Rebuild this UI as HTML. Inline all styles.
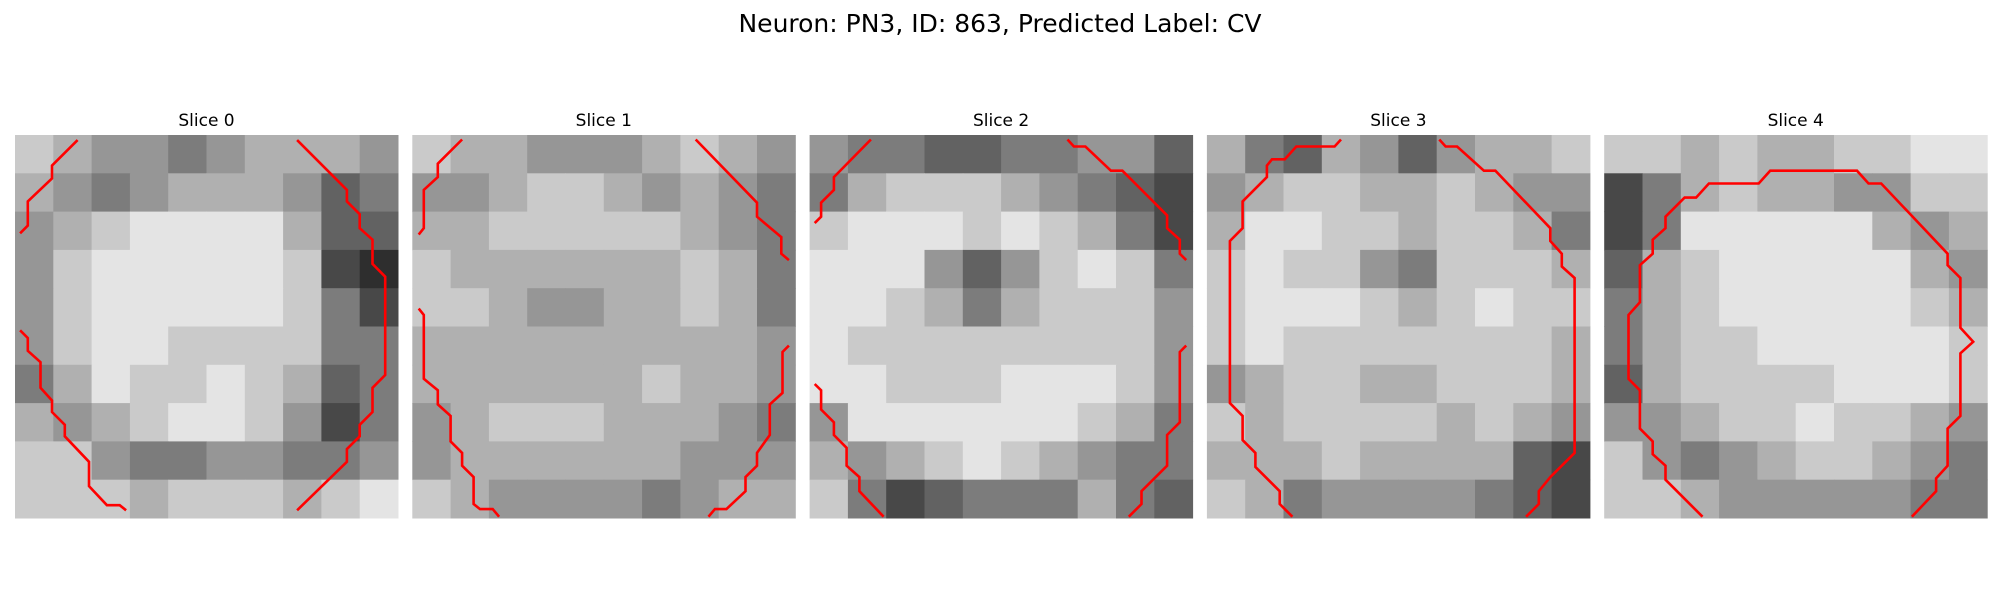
<!DOCTYPE html>
<html><head><meta charset="utf-8">
<style>
html,body{margin:0;padding:0;background:#fff;}
body{width:2000px;height:600px;overflow:hidden;font-family:"Liberation Sans","DejaVu Sans",sans-serif;}
</style></head>
<body>
<svg id="fig" width="2000" height="600" viewBox="0 0 2000 600" xmlns="http://www.w3.org/2000/svg">
<rect width="2000" height="600" fill="#fff"/>
<text x="1000" y="32" text-anchor="middle" font-size="25" font-family="DejaVu Sans, Liberation Sans, sans-serif" fill="#000">Neuron: PN3, ID: 863, Predicted Label: CV</text>
</svg>
<script>
const sliceTitles = ["Slice 0","Slice 1","Slice 2","Slice 3","Slice 4"];
const grid0 = ["7655456665","6545666534","5678888633","5788888721","5788888742","5788777744","4687787634","6567887524","7754455445","7776777678"];
const grid1 = ["7665556765","5567765654","6677777654","7666666764","7765566764","6666666665","6666667665","5677766654","5666666555","7655554566"];
const grid2 = ["5443344553","4677765432","7888787642","8885357874","8876467775","8777777775","8877788875","5888888764","6567876544","7423444643"];
const grid3 = ["6436535667","5677667655","6887767764","7877547776","7888767877","7877777776","5677667776","7677776765","6667666632","7645555432"];
const grid4 = ["7767667788","2467665577","2488888656","3678888865","4678888876","4677888887","3677778887","5567787765","7545677654","7765555544"];
const grids = [grid0,grid1,grid2,grid3,grid4];
const contours0 = [
 [[4.9,0.4],[2.9,2.4],[2.9,3.4],[1,5.2],[1,7.1],[0.4,7.7]],
 [[22.1,0.4],[26,4.3],[26,5.2],[27,6.2],[27,7.3],[28,8.2],[28,10.1],[29,11.1],[29,18.8],[28,19.8],[28,21.7],[27,22.7],[27,23.6],[26,24.6],[26,25.6],[22.1,29.4]],
 [[0.4,15.3],[1,15.9],[1,16.9],[2,17.8],[2,19.8],[2.9,20.8],[2.9,21.7],[3.9,22.7],[3.9,23.6],[5.8,25.6],[5.8,27.5],[7.2,29],[8.2,29],[8.7,29.4]]
];
const contours1 = [
 [[3.9,0.35],[2,2.25],[2,3.3],[0.9,4.3],[0.9,7.3],[0.5,7.8]],
 [[22.2,0.35],[27,5.3],[27,6.4],[28.9,8],[28.9,9.3],[29.5,9.8]],
 [[0.5,13.6],[0.9,14.1],[0.9,19.1],[2,20],[2,21.1],[3,22],[3,24],[3.9,24.9],[3.9,25.9],[4.8,26.8],[4.8,28.9],[5.3,29.3],[6.3,29.3],[6.8,29.9]],
 [[29.5,16.5],[29,17],[29,20.2],[28,21.1],[28,23.5],[27,24.9],[27,25.9],[26.1,26.8],[26.1,27.9],[24.6,29.3],[23.7,29.3],[23.2,29.9]]
];
const contours2 = [
 [[4.8,0.35],[1.9,3.3],[1.9,4.3],[0.9,5.3],[0.9,6.4],[0.4,6.9]],
 [[20.2,0.35],[20.7,0.9],[21.6,0.9],[23.6,2.8],[24.5,2.8],[28,6.3],[28,7.3],[29,8.2],[29,9.3],[29.5,9.8]],
 [[0.4,19.5],[0.9,20],[0.9,21.5],[1.9,22.5],[1.9,23.5],[2.9,24.5],[2.9,25.9],[3.9,26.8],[3.9,27.9],[5.8,29.9]],
 [[29.5,16.5],[29,17],[29,22.5],[28,23.5],[28,25.9],[26,27.9],[26,28.9],[25,29.9]]
];
const contours3 = [
 [[10.5,0.35],[10,0.9],[7,0.9],[6.1,1.9],[5.1,1.9],[4.7,2.4],[4.7,3.3],[2.8,5.2],[2.8,7.3],[1.8,8.3],[1.8,21],[2.8,22],[2.8,23.9],[3.8,24.9],[3.8,26],[5.7,27.9],[5.7,28.9],[6.7,29.9]],
 [[18.2,0.35],[18.7,0.9],[19.6,0.9],[21.7,2.8],[22.6,2.8],[26.9,7.3],[26.9,8.3],[27.8,9.3],[27.8,10.3],[28.8,11.2],[28.8,24.9],[26.9,26.8],[26,27.9],[26,28.9],[25,29.9]]
];
const contours4 = [
 [[7.7,29.9],[4.8,27],[4.8,25.9],[3.8,25],[3.8,24],[2.8,23],[2.8,20],[1.9,19.1],[1.9,14.1],[2.8,13.1],[2.8,10.2],[3.8,9.3],[3.8,8.2],[4.8,7.3],[4.8,6.4],[6.3,4.9],[7.2,4.9],[8.2,3.8],[12.1,3.8],[13,2.8],[19.8,2.8],[20.7,3.8],[21.7,3.8],[26.9,9.3],[26.9,10.2],[27.9,11.2],[27.9,15.1],[28.9,16.2],[27.9,17.1],[27.9,22],[26.9,23],[26.9,25.9],[26,26.9],[26,27.9],[24.1,29.9]]
];
const contours = [contours0,contours1,contours2,contours3,contours4];

const NS = "http://www.w3.org/2000/svg";
const svg = document.getElementById('fig');
const panelX0 = 15, panelStep = 397.3, panelY0 = 135, panelSize = 383, N = 30;
function xScale(p, v){ return panelX0 + p*panelStep + v/N*panelSize; }
function yScale(v){ return panelY0 + v/N*panelSize; }
function grayOf(L){ const g = Math.round(20 + L*26); return `rgb(${g},${g},${g})`; }

grids.forEach((grid, p) => {
  const g = document.createElementNS(NS,'g');
  
  
  svg.appendChild(g);
  const t = document.createElementNS(NS,'text');
  
  
  t.setAttribute('x', xScale(p, 15));
  t.setAttribute('y', 126);
  t.setAttribute('text-anchor','middle');
  t.setAttribute('font-size','17');
  t.setAttribute('font-family','DejaVu Sans, Liberation Sans, sans-serif');
  t.textContent = sliceTitles[p];
  g.appendChild(t);
  const rows = grid.length, cols = grid[0].length;
  for (let r=0;r<rows;r++){
    for (let c=0;c<cols;c++){
      const rc = document.createElementNS(NS,'rect');
      
      
      const x0 = xScale(p, c*N/cols), x1 = xScale(p, (c+1)*N/cols);
      const y0 = yScale(r*N/rows), y1 = yScale((r+1)*N/rows);
      rc.setAttribute('x', x0.toFixed(2));
      rc.setAttribute('y', y0.toFixed(2));
      rc.setAttribute('width', (x1-x0+0.5).toFixed(2));
      rc.setAttribute('height', (y1-y0+0.5).toFixed(2));
      rc.setAttribute('fill', grayOf(+grid[r][c]));
      g.appendChild(rc);
    }
  }
  contours[p].forEach(line => {
    const pl = document.createElementNS(NS,'polyline');
    
    
    pl.setAttribute('points', line.map(pt => xScale(p, pt[0]).toFixed(1)+','+yScale(pt[1]).toFixed(1)).join(' '));
    pl.setAttribute('fill','none');
    pl.setAttribute('stroke','#ff0000');
    pl.setAttribute('stroke-width','2.6');
    g.appendChild(pl);
  });
});
</script>
</body></html>
